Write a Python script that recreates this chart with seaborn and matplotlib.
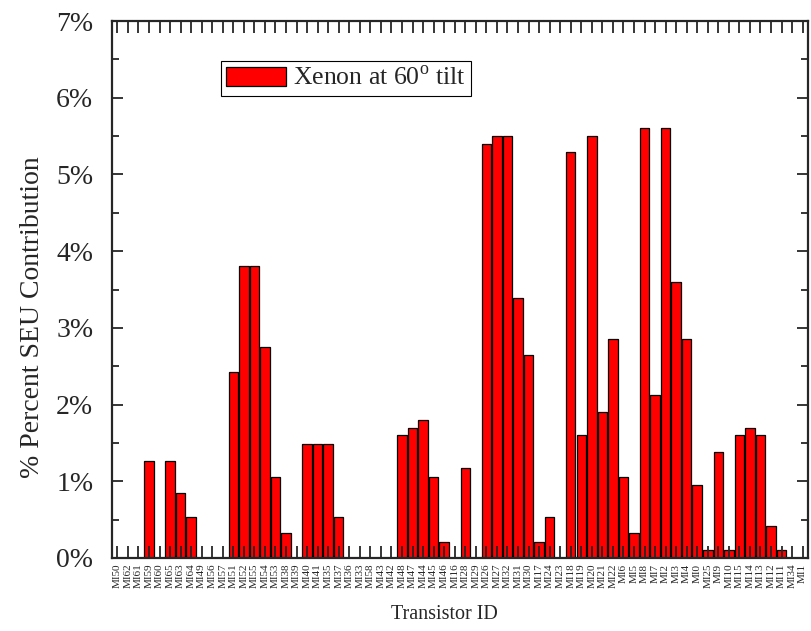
import matplotlib
matplotlib.use("Agg")
import matplotlib.pyplot as plt
import seaborn as sns
import pandas as pd
from matplotlib.ticker import MultipleLocator, FuncFormatter

transistors = ["MI50", "MI62", "MI61", "MI59", "MI60", "MI65", "MI63", "MI64", "MI49", "MI56",
               "MI57", "MI51", "MI52", "MI55", "MI54", "MI53", "MI38", "MI39", "MI40", "MI41",
               "MI35", "MI37", "MI36", "MI33", "MI58", "MI43", "MI42", "MI48", "MI47", "MI44",
               "MI45", "MI46", "MI16", "MI28", "MI29", "MI26", "MI27", "MI32", "MI31", "MI30",
               "MI17", "MI24", "MI23", "MI18", "MI19", "MI20", "MI21", "MI22", "MI6", "MI5",
               "MI8", "MI7", "MI2", "MI3", "MI4", "MI0", "MI25", "MI9", "MI10", "MI15",
               "MI14", "MI13", "MI12", "MI11", "MI34", "MI1"]
contribution = [0, 0, 0, 1.27, 0, 1.27, 0.85, 0.53, 0, 0,
                0, 2.43, 3.81, 3.81, 2.75, 1.06, 0.32, 0, 1.48, 1.48,
                1.48, 0.53, 0, 0, 0, 0, 0, 1.60, 1.70, 1.80,
                1.06, 0.21, 0, 1.17, 0, 5.40, 5.50, 5.50, 3.39, 2.65,
                0.21, 0.53, 0, 5.29, 1.60, 5.50, 1.90, 2.86, 1.06, 0.32,
                5.61, 2.12, 5.61, 3.60, 2.86, 0.95, 0.11, 1.38, 0.11, 1.60,
                1.70, 1.60, 0.42, 0.11, 0, 0]
series_label = "Xenon at 60$^{\\mathregular{o}}$ tilt"

df = pd.DataFrame({"Transistor ID": transistors, "SEU": contribution})

sns.set_style("ticks")
plt.rcParams["font.family"] = ["Liberation Serif", "DejaVu Serif"]
plt.rcParams["mathtext.fontset"] = "custom"
plt.rcParams["mathtext.rm"] = "Liberation Serif"

fig = plt.figure(figsize=(8.12, 6.31), dpi=100)
ax = fig.add_axes([0.138, 0.1157, 0.857, 0.851])

sns.barplot(data=df, x="Transistor ID", y="SEU", color="#ff0000", saturation=1,
            edgecolor="black", linewidth=0.9, width=0.9, label=series_label, ax=ax)
ax.set_axisbelow(False)

ax.set_ylim(0, 7)
ax.set_xlim(-0.5, len(transistors) - 0.5)
ax.yaxis.set_major_locator(MultipleLocator(1))
ax.yaxis.set_minor_locator(MultipleLocator(0.5))
ax.yaxis.set_major_formatter(FuncFormatter(lambda v, p: f"{int(round(v))}%"))

ax.tick_params(axis="y", which="major", direction="in", length=8, width=1.3,
               labelsize=20, right=True, pad=13.5)
ax.tick_params(axis="y", which="minor", direction="in", length=5, width=1.3, right=True)
ax.tick_params(axis="x", which="major", direction="in", length=8.5, width=1.3,
               top=True, labelsize=8, labelrotation=90, pad=4)
ax.set_xticks(range(len(transistors)))
ax.set_xticklabels(transistors, rotation=90)

for s in ax.spines.values():
    s.set_linewidth(1.6)
    s.set_visible(True)

ax.set_xlabel("Transistor ID", fontsize=14.5)
ax.set_ylabel("% Percent SEU Contribution", fontsize=20)
ax.xaxis.set_label_coords(0.477, -0.087)
ax.yaxis.set_label_coords(-0.097, 0.449)

leg = ax.legend(loc="upper left", bbox_to_anchor=(0.157, 0.925), fontsize=18.5,
                frameon=True, fancybox=False, edgecolor="black", framealpha=1,
                handlelength=2.3, handleheight=0.8, handletextpad=0.3,
                borderpad=0.2, borderaxespad=0)
leg.get_frame().set_linewidth(0.8)

fig.savefig("out.png", dpi=100)
